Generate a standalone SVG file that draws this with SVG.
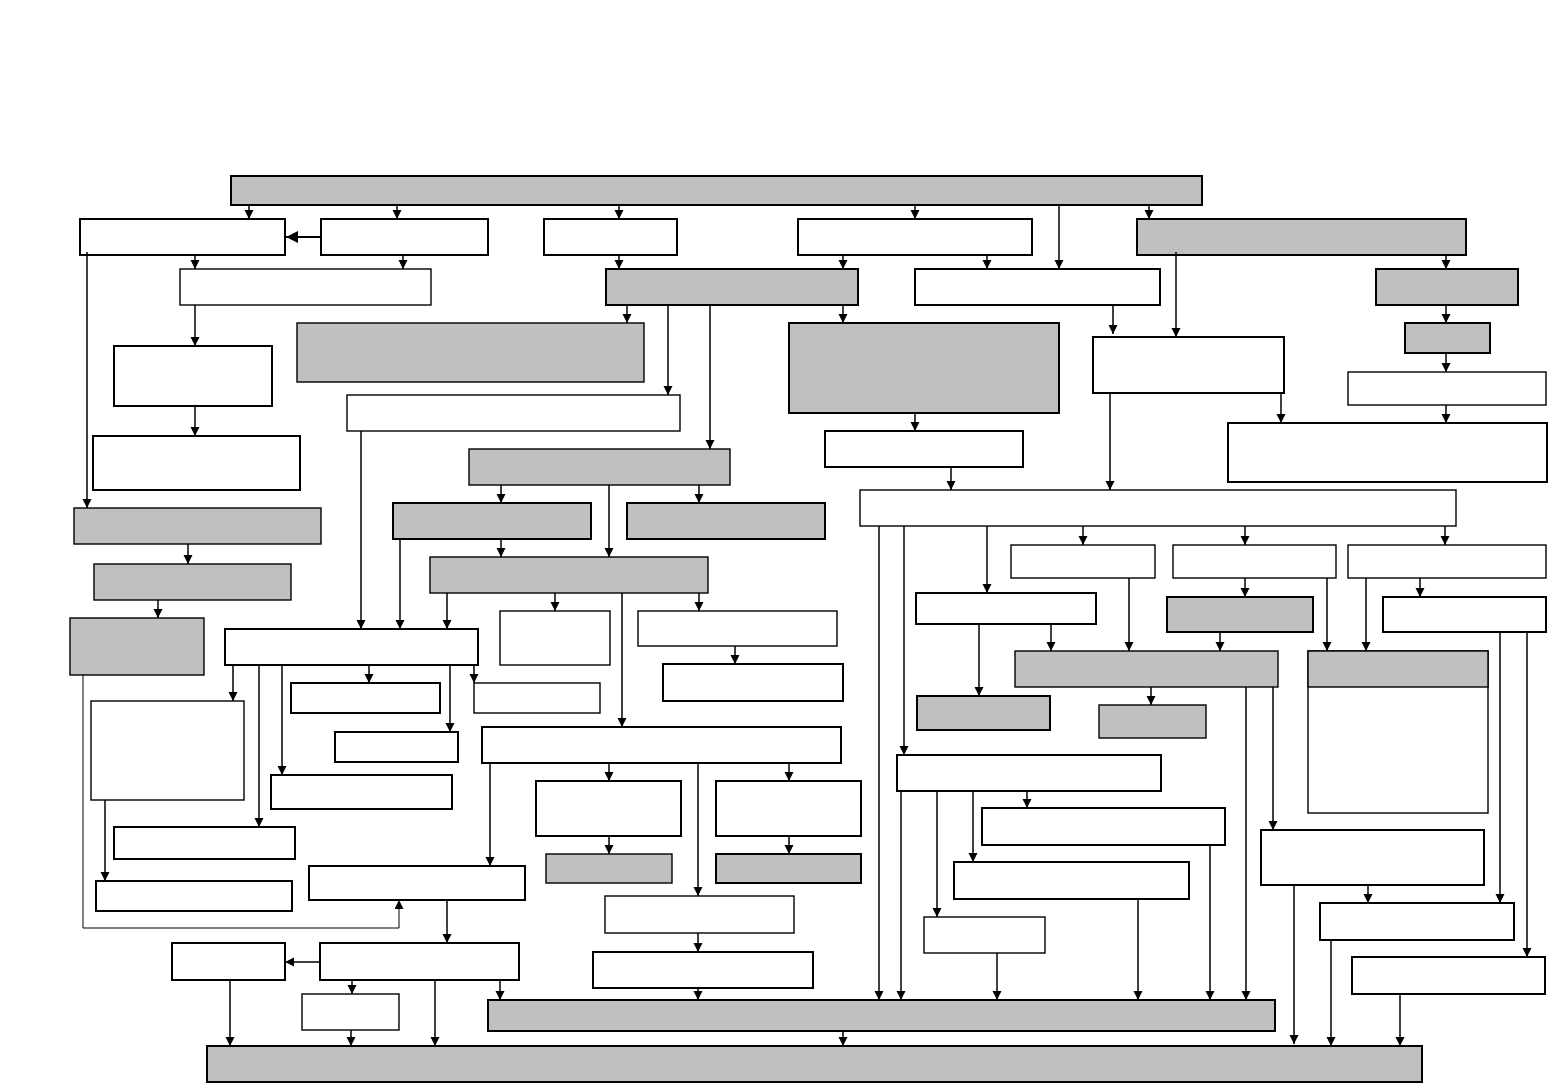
<svg xmlns="http://www.w3.org/2000/svg" width="1548" height="1083" viewBox="0 0 1548 1083">
<defs>
<style>
.nd rect{stroke:#000}
.g{fill:#c0c0c0}
.w{fill:#fff}
.t{stroke-width:2}
.n{stroke-width:1.4}
.c line,.c path{stroke:#000;stroke-width:1.5;fill:none;marker-end:url(#a)}
.c .big{marker-end:url(#b);stroke-width:2}
.c .thin{stroke-width:1}
</style>
<marker id="a" markerUnits="userSpaceOnUse" markerWidth="10" markerHeight="10" refX="9" refY="4.5" orient="auto"><path d="M0,0 L9,4.5 L0,9 z" fill="#000"/></marker>
<marker id="b" markerUnits="userSpaceOnUse" markerWidth="13" markerHeight="13" refX="12" refY="6" orient="auto"><path d="M0,0 L12,6 L0,12 z" fill="#000"/></marker>
</defs>
<rect x="0" y="0" width="1548" height="1083" style="fill:#fff;stroke:none"/>
<g id="nodes" class="nd">
<g id="n-top"><rect class="g t" x="231" y="176" width="971" height="29"/></g>
<g id="n-a"><rect class="w t" x="80" y="219" width="205" height="36"/></g>
<g id="n-b"><rect class="w t" x="321" y="219" width="167" height="36"/></g>
<g id="n-c"><rect class="w t" x="544" y="219" width="133" height="36"/></g>
<g id="n-d"><rect class="w t" x="798" y="219" width="234" height="36"/></g>
<g id="n-e"><rect class="g t" x="1137" y="219" width="329" height="36"/></g>
<g id="n-f"><rect class="w n" x="180" y="269" width="251" height="36"/></g>
<g id="n-g"><rect class="g t" x="606" y="269" width="252" height="36"/></g>
<g id="n-h"><rect class="w t" x="915" y="269" width="245" height="36"/></g>
<g id="n-i"><rect class="g t" x="1376" y="269" width="142" height="36"/></g>
<g id="n-j"><rect class="g n" x="297" y="323" width="347" height="59"/></g>
<g id="n-k"><rect class="w t" x="114" y="346" width="158" height="60"/></g>
<g id="n-l"><rect class="g t" x="789" y="323" width="270" height="90"/></g>
<g id="n-m"><rect class="w t" x="1093" y="337" width="191" height="56"/></g>
<g id="n-n"><rect class="g t" x="1405" y="323" width="85" height="30"/></g>
<g id="n-o"><rect class="w n" x="1348" y="372" width="198" height="33"/></g>
<g id="n-p"><rect class="w n" x="347" y="395" width="333" height="36"/></g>
<g id="n-q"><rect class="w t" x="93" y="436" width="207" height="54"/></g>
<g id="n-r"><rect class="g n" x="469" y="449" width="261" height="36"/></g>
<g id="n-s"><rect class="w t" x="825" y="431" width="198" height="36"/></g>
<g id="n-t"><rect class="w t" x="1228" y="423" width="319" height="59"/></g>
<g id="n-u"><rect class="g n" x="74" y="508" width="247" height="36"/></g>
<g id="n-v"><rect class="g t" x="393" y="503" width="198" height="36"/></g>
<g id="n-w"><rect class="g t" x="627" y="503" width="198" height="36"/></g>
<g id="n-x"><rect class="w n" x="860" y="490" width="596" height="36"/></g>
<g id="n-y"><rect class="g n" x="94" y="564" width="197" height="36"/></g>
<g id="n-z"><rect class="g n" x="430" y="557" width="278" height="36"/></g>
<g id="n-aa"><rect class="w n" x="1011" y="545" width="144" height="33"/></g>
<g id="n-ab"><rect class="w n" x="1173" y="545" width="163" height="33"/></g>
<g id="n-ac"><rect class="w n" x="1348" y="545" width="198" height="33"/></g>
<g id="n-ad"><rect class="g n" x="70" y="618" width="134" height="57"/></g>
<g id="n-ae"><rect class="w t" x="916" y="593" width="180" height="31"/></g>
<g id="n-af"><rect class="g t" x="1167" y="597" width="146" height="35"/></g>
<g id="n-ag"><rect class="w t" x="1383" y="597" width="163" height="35"/></g>
<g id="n-ah"><rect class="w t" x="225" y="629" width="253" height="36"/></g>
<g id="n-ai"><rect class="w n" x="500" y="611" width="110" height="54"/></g>
<g id="n-aj"><rect class="w n" x="638" y="611" width="199" height="35"/></g>
<g id="n-ak"><rect class="g n" x="1015" y="651" width="263" height="36"/></g>
<g id="n-al"><rect class="w n" x="1308" y="651" width="180" height="162"/><rect class="g n" x="1308" y="651" width="180" height="36"/></g>
<g id="n-am"><rect class="w t" x="663" y="664" width="180" height="37"/></g>
<g id="n-an"><rect class="w t" x="291" y="683" width="149" height="30"/></g>
<g id="n-ao"><rect class="w n" x="474" y="683" width="126" height="30"/></g>
<g id="n-ap"><rect class="w n" x="91" y="701" width="153" height="99"/></g>
<g id="n-aq"><rect class="g t" x="917" y="696" width="133" height="34"/></g>
<g id="n-ar"><rect class="g n" x="1099" y="705" width="107" height="33"/></g>
<g id="n-as"><rect class="w t" x="482" y="727" width="359" height="36"/></g>
<g id="n-at"><rect class="w t" x="335" y="732" width="123" height="30"/></g>
<g id="n-au"><rect class="w t" x="897" y="755" width="264" height="36"/></g>
<g id="n-av"><rect class="w t" x="271" y="775" width="181" height="34"/></g>
<g id="n-aw"><rect class="w t" x="536" y="781" width="145" height="55"/></g>
<g id="n-ax"><rect class="w t" x="716" y="781" width="145" height="55"/></g>
<g id="n-ay"><rect class="w t" x="982" y="808" width="243" height="37"/></g>
<g id="n-az"><rect class="w t" x="114" y="827" width="181" height="32"/></g>
<g id="n-ba"><rect class="w t" x="1261" y="830" width="223" height="55"/></g>
<g id="n-bb"><rect class="g n" x="546" y="854" width="126" height="29"/></g>
<g id="n-bc"><rect class="g t" x="716" y="854" width="145" height="29"/></g>
<g id="n-bd"><rect class="w t" x="954" y="862" width="235" height="37"/></g>
<g id="n-be"><rect class="w t" x="309" y="866" width="216" height="34"/></g>
<g id="n-bf"><rect class="w t" x="96" y="881" width="196" height="30"/></g>
<g id="n-bg"><rect class="w n" x="605" y="896" width="189" height="37"/></g>
<g id="n-bh"><rect class="w t" x="1320" y="903" width="194" height="37"/></g>
<g id="n-bi"><rect class="w n" x="924" y="917" width="121" height="36"/></g>
<g id="n-bj"><rect class="w t" x="172" y="943" width="113" height="37"/></g>
<g id="n-bk"><rect class="w t" x="320" y="943" width="199" height="37"/></g>
<g id="n-bl"><rect class="w t" x="593" y="952" width="220" height="36"/></g>
<g id="n-bm"><rect class="w t" x="1352" y="957" width="193" height="37"/></g>
<g id="n-bn"><rect class="w n" x="302" y="994" width="97" height="36"/></g>
<g id="n-bo"><rect class="g t" x="488" y="1000" width="787" height="31"/></g>
<g id="n-bp"><rect class="g t" x="207" y="1046" width="1215" height="36"/></g>
</g>
<g id="connectors" class="c">
<line x1="249" y1="205" x2="249" y2="219"/>
<line x1="397" y1="205" x2="397" y2="219"/>
<line x1="619" y1="205" x2="619" y2="219"/>
<line x1="915" y1="205" x2="915" y2="219"/>
<line x1="1059" y1="205" x2="1059" y2="269"/>
<line x1="1149" y1="205" x2="1149" y2="219"/>
<line class="big" x1="321" y1="237" x2="286" y2="237"/>
<line x1="195" y1="255" x2="195" y2="269"/>
<line x1="403" y1="255" x2="403" y2="269"/>
<line x1="619" y1="255" x2="619" y2="269"/>
<line x1="843" y1="255" x2="843" y2="269"/>
<line x1="987" y1="255" x2="987" y2="269"/>
<line x1="1176" y1="252" x2="1176" y2="337"/>
<line x1="1446" y1="255" x2="1446" y2="269"/>
<line x1="1446" y1="305" x2="1446" y2="323"/>
<line x1="1446" y1="353" x2="1446" y2="372"/>
<line x1="1446" y1="405" x2="1446" y2="423"/>
<line x1="195" y1="305" x2="195" y2="346"/>
<line x1="195" y1="406" x2="195" y2="436"/>
<line x1="87" y1="252" x2="87" y2="508"/>
<line x1="627" y1="305" x2="627" y2="323"/>
<line x1="668" y1="305" x2="668" y2="395"/>
<line x1="710" y1="305" x2="710" y2="449"/>
<line x1="843" y1="305" x2="843" y2="323"/>
<line x1="1113" y1="305" x2="1113" y2="334"/>
<line x1="1110" y1="393" x2="1110" y2="490"/>
<line x1="1281" y1="393" x2="1281" y2="423"/>
<line x1="915" y1="413" x2="915" y2="431"/>
<line x1="951" y1="467" x2="951" y2="490"/>
<line x1="361" y1="431" x2="361" y2="629"/>
<line x1="188" y1="544" x2="188" y2="564"/>
<line x1="158" y1="600" x2="158" y2="618"/>
<line x1="501" y1="485" x2="501" y2="503"/>
<line x1="609" y1="485" x2="609" y2="557"/>
<line x1="699" y1="485" x2="699" y2="503"/>
<line x1="400" y1="539" x2="400" y2="629"/>
<line x1="501" y1="539" x2="501" y2="557"/>
<line x1="447" y1="593" x2="447" y2="629"/>
<line x1="555" y1="593" x2="555" y2="611"/>
<line x1="622" y1="593" x2="622" y2="727"/>
<line x1="699" y1="593" x2="699" y2="611"/>
<line x1="735" y1="646" x2="735" y2="664"/>
<line x1="233" y1="665" x2="233" y2="701"/>
<line x1="259" y1="665" x2="259" y2="827"/>
<line x1="282" y1="665" x2="282" y2="775"/>
<line x1="369" y1="665" x2="369" y2="683"/>
<line x1="450" y1="665" x2="450" y2="732"/>
<line x1="474" y1="665" x2="474" y2="683"/>
<path class="thin" d="M83,675 V928 H399 V900"/>
<line x1="105" y1="800" x2="105" y2="881"/>
<line x1="490" y1="763" x2="490" y2="866"/>
<line x1="609" y1="763" x2="609" y2="781"/>
<line x1="698" y1="763" x2="698" y2="896"/>
<line x1="789" y1="763" x2="789" y2="781"/>
<line x1="609" y1="836" x2="609" y2="854"/>
<line x1="789" y1="836" x2="789" y2="854"/>
<line x1="698" y1="933" x2="698" y2="952"/>
<line x1="698" y1="988" x2="698" y2="1000"/>
<line x1="447" y1="900" x2="447" y2="943"/>
<line x1="320" y1="962" x2="285" y2="962"/>
<line x1="230" y1="980" x2="230" y2="1046"/>
<line x1="352" y1="980" x2="352" y2="994"/>
<line x1="435" y1="980" x2="435" y2="1046"/>
<line x1="500" y1="980" x2="500" y2="1000"/>
<line x1="351" y1="1030" x2="351" y2="1046"/>
<line x1="843" y1="1031" x2="843" y2="1046"/>
<line x1="879" y1="526" x2="879" y2="1000"/>
<line x1="904" y1="526" x2="904" y2="755"/>
<line x1="901" y1="791" x2="901" y2="1000"/>
<line x1="987" y1="526" x2="987" y2="593"/>
<line x1="1083" y1="526" x2="1083" y2="545"/>
<line x1="1245" y1="526" x2="1245" y2="545"/>
<line x1="1445" y1="526" x2="1445" y2="545"/>
<line x1="979" y1="624" x2="979" y2="696"/>
<line x1="1051" y1="624" x2="1051" y2="651"/>
<line x1="1129" y1="578" x2="1129" y2="651"/>
<line x1="1245" y1="578" x2="1245" y2="597"/>
<line x1="1220" y1="632" x2="1220" y2="651"/>
<line x1="1327" y1="578" x2="1327" y2="651"/>
<line x1="1366" y1="578" x2="1366" y2="651"/>
<line x1="1420" y1="578" x2="1420" y2="597"/>
<line x1="1151" y1="687" x2="1151" y2="705"/>
<line x1="1246" y1="687" x2="1246" y2="1000"/>
<line x1="1273" y1="687" x2="1273" y2="830"/>
<line x1="1500" y1="632" x2="1500" y2="903"/>
<line x1="1527" y1="632" x2="1527" y2="957"/>
<line x1="1027" y1="791" x2="1027" y2="808"/>
<line x1="973" y1="791" x2="973" y2="862"/>
<line x1="937" y1="791" x2="937" y2="917"/>
<line x1="1210" y1="845" x2="1210" y2="1000"/>
<line x1="1138" y1="899" x2="1138" y2="1000"/>
<line x1="997" y1="953" x2="997" y2="1000"/>
<line x1="1368" y1="885" x2="1368" y2="903"/>
<line x1="1294" y1="885" x2="1294" y2="1044"/>
<line x1="1331" y1="940" x2="1331" y2="1046"/>
<line x1="1400" y1="994" x2="1400" y2="1046"/>
</g>
</svg>
